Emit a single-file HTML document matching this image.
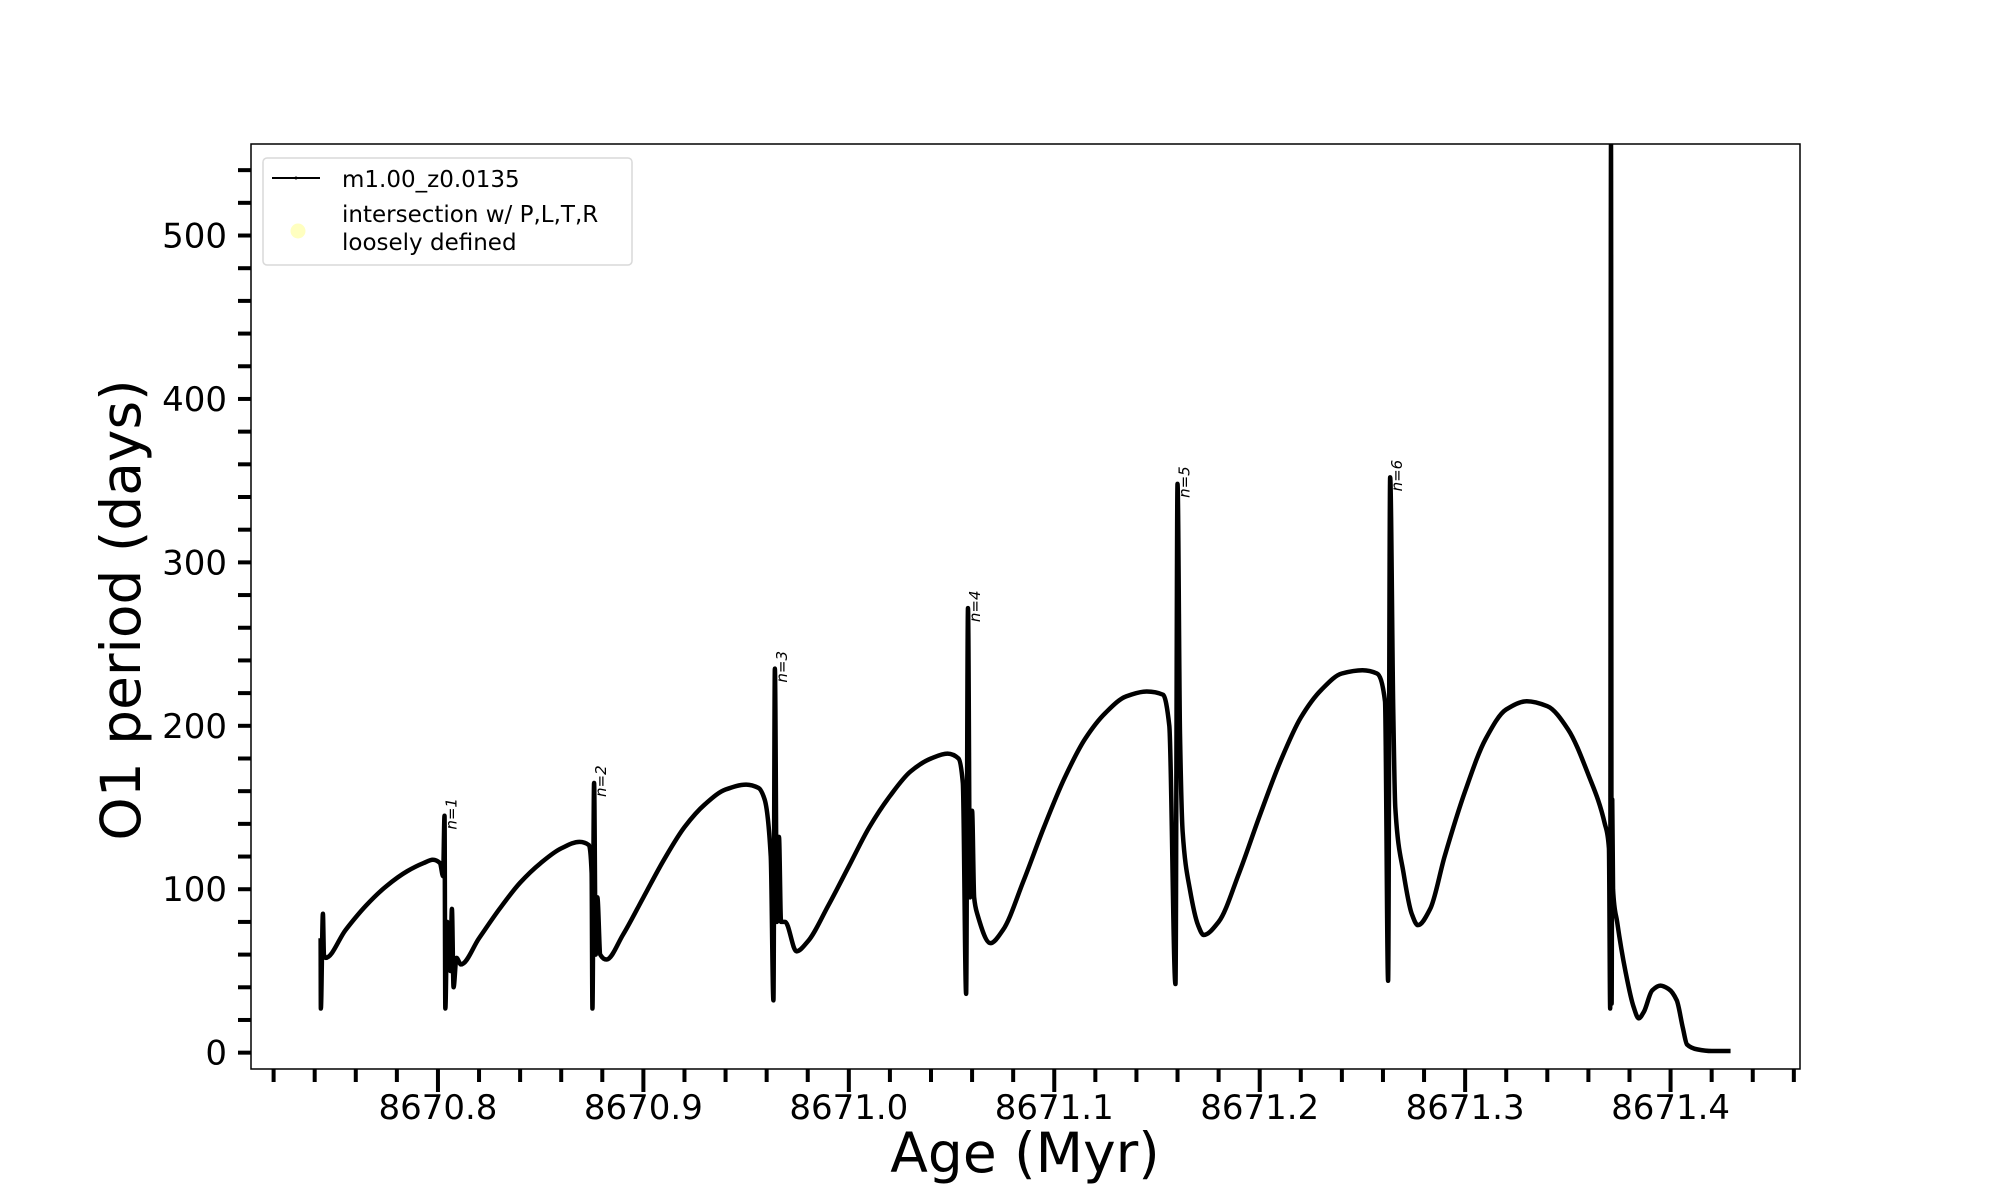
<!DOCTYPE html>
<html><head><meta charset="utf-8"><style>
html,body{margin:0;padding:0;background:#fff;}
svg{display:block;font-family:"DejaVu Sans","Liberation Sans",sans-serif;}
</style></head><body>
<svg id="chart" width="2000" height="1200" viewBox="0 0 2000 1200">
<rect width="2000" height="1200" fill="#fff"/>
<g id="plot"></g>
<g id="axes"></g>
<text x="1025" y="1172" font-size="55" text-anchor="middle">Age (Myr)</text>
<text transform="translate(140,610) rotate(-90)" font-size="55" text-anchor="middle">O1 period (days)</text>
<g>
<rect x="263" y="158" width="369" height="107" rx="4" fill="#fff" fill-opacity="0.8" stroke="#d9d9d9" stroke-width="1.5"/>
<line x1="272" y1="178" x2="320" y2="178" stroke="#000" stroke-width="2"/>
<circle cx="296" cy="178" r="1.5" fill="#000"/>
<text x="342" y="187" font-size="23">m1.00_z0.0135</text>
<circle cx="298" cy="231" r="7.5" fill="#ffffc0"/>
<text x="342" y="222" font-size="23">intersection w/ P,L,T,R</text>
<text x="342" y="250" font-size="23">loosely defined</text>
</g>
</svg>
<script>
const ages = [8670.7429,8670.7430,8670.7440,8670.7445,8670.7453,8670.7550,8670.7650,8670.7750,8670.7850,8670.7930,8670.7975,8670.8010,8670.8025,8670.8032,8670.8036,8670.8045,8670.8060,8670.8068,8670.8076,8670.8090,8670.8112,8670.8200,8670.8300,8670.8400,8670.8500,8670.8600,8670.8689,8670.8735,8670.8748,8670.8752,8670.8760,8670.8768,8670.8776,8670.8790,8670.8820,8670.8900,8670.9000,8670.9100,8670.9200,8670.9300,8670.9400,8670.9500,8670.9560,8670.9590,8670.9620,8670.9633,8670.9640,8670.9650,8670.9660,8670.9670,8670.9690,8670.9745,8670.9800,8670.9900,8671.0000,8671.0100,8671.0200,8671.0300,8671.0400,8671.0480,8671.0534,8671.0555,8671.0571,8671.0580,8671.0590,8671.0600,8671.0610,8671.0625,8671.0689,8671.0750,8671.0850,8671.0950,8671.1050,8671.1150,8671.1250,8671.1350,8671.1450,8671.1530,8671.1560,8671.1590,8671.1600,8671.1612,8671.1625,8671.1660,8671.1700,8671.1727,8671.1800,8671.1900,8671.2000,8671.2100,8671.2200,8671.2300,8671.2400,8671.2500,8671.2571,8671.2610,8671.2625,8671.2635,8671.2650,8671.2660,8671.2700,8671.2740,8671.2770,8671.2830,8671.2900,8671.3000,8671.3100,8671.3200,8671.3300,8671.3400,8671.3500,8671.3600,8671.3680,8671.3700,8671.3706,8671.3710,8671.3713,8671.3716,8671.3720,8671.3740,8671.3780,8671.3820,8671.3845,8671.3870,8671.3910,8671.3950,8671.3990,8671.4030,8671.4060,8671.4080,8671.4130,8671.4200,8671.4292];
const periods = [70,27,85,60,58,75,90,102,111,116,118,116,108,145,27,80,50,88,40,58,54,70,88,104,116,125,129,127,110,27,165,60,95,60,57,72,95,118,138,152,161,164,162,155,120,32,235,80,132,80,80,62,68,90,114,138,157,172,180,183,180,165,36,272,95,148,95,85,67,75,105,138,168,192,208,218,221,219,200,42,348,195,135,100,78,72,80,110,145,178,205,222,232,234,232,215,44,352,210,150,110,85,78,88,120,160,192,210,215,212,198,170,140,125,27,556,30,155,100,80,50,28,21,25,38,41,39,32,15,5,2,1,1];
const xTicks = [8670.8,8670.9,8671.0,8671.1,8671.2,8671.3,8671.4];
const xTickLabels = ["8670.8","8670.9","8671.0","8671.1","8671.2","8671.3","8671.4"];
const yTicks = [0,100,200,300,400,500];
const yTickLabels = ["0","100","200","300","400","500"];
const annLabels = ["n=1","n=2","n=3","n=4","n=5","n=6"];
const annAges = [8670.8032,8670.8760,8670.9640,8671.0580,8671.1600,8671.2635];
const annValues = [145,165,235,272,348,352];

const L=251,R=1800,T=144,B=1069;
const X0=8670.709,X1=8671.463,Y0=-10,Y1=556;
const sx=v=>L+(v-X0)/(X1-X0)*(R-L);
const sy=v=>B-(v-Y0)/(Y1-Y0)*(B-T);
const NS="http://www.w3.org/2000/svg";
const plot=document.getElementById('plot'), axes=document.getElementById('axes');
function mk(tag,attrs,parent){const e=document.createElementNS(NS,tag);for(const k in attrs)e.setAttribute(k,attrs[k]);parent.appendChild(e);return e;}

const defs=mk('defs',{},plot);
const cp=mk('clipPath',{id:'clip'},defs);
mk('rect',{x:L,y:T,width:R-L,height:B-T},cp);

// monotone cubic path (no overshoot)
const px=ages.map(sx), py=periods.map(sy), n=px.length;
const d=[],m=[];
for(let i=0;i<n-1;i++)d.push((py[i+1]-py[i])/(px[i+1]-px[i]));
m[0]=d[0];m[n-1]=d[n-2];
for(let i=1;i<n-1;i++){
  if(d[i-1]*d[i]<=0)m[i]=0;
  else{const h0=px[i]-px[i-1],h1=px[i+1]-px[i];const w1=2*h1+h0,w2=h1+2*h0;m[i]=(w1+w2)/(w1/d[i-1]+w2/d[i]);}
}
let path='M'+px[0].toFixed(2)+','+py[0].toFixed(2);
for(let i=0;i<n-1;i++){
  const h=(px[i+1]-px[i])/3;
  path+=' C'+(px[i]+h).toFixed(2)+','+(py[i]+m[i]*h).toFixed(2)+' '+(px[i+1]-h).toFixed(2)+','+(py[i+1]-m[i+1]*h).toFixed(2)+' '+px[i+1].toFixed(2)+','+py[i+1].toFixed(2);
}
const line=mk('path',{d:path,fill:'none',stroke:'#000','stroke-width':4.5,'stroke-linejoin':'round','clip-path':'url(#clip)'},plot);



annLabels.forEach((t,i)=>{
  const x=sx(annAges[i])+12, y=sy(annValues[i])+14;
  const e=mk('text',{transform:`translate(${x},${y}) rotate(-90)`,'font-size':15,'font-style':'italic'},plot);
  e.textContent=t;
  
  
});

const frame=mk('rect',{x:L,y:T,width:R-L,height:B-T,fill:'none',stroke:'#000','stroke-width':1.5},axes);



for(let k=0;k<=37;k++){
  const v=8670.72+k*0.02; const x=sx(v); if(x>R+1)break;
  const major=Math.abs(((v-8670.8)/0.1)-Math.round((v-8670.8)/0.1))<1e-6;
  const t=mk('line',{x1:x,x2:x,y1:B,y2:B+(major?23:13),stroke:'#000','stroke-width':4},axes);
  
  
}
xTicks.forEach((v,i)=>{
  const e=mk('text',{x:sx(v),y:1119,'font-size':34,'text-anchor':'middle'},axes);
  e.textContent=xTickLabels[i];
  
  
});
for(let v=0;v<=540;v+=20){
  const y=sy(v);
  const t=mk('line',{x1:L-13,x2:L,y1:y,y2:y,stroke:'#000','stroke-width':4},axes);
  
  
}
yTicks.forEach((v,i)=>{
  const e=mk('text',{x:227,y:sy(v)+12,'font-size':34,'text-anchor':'end'},axes);
  e.textContent=yTickLabels[i];
  
  
});
</script>
</body></html>
